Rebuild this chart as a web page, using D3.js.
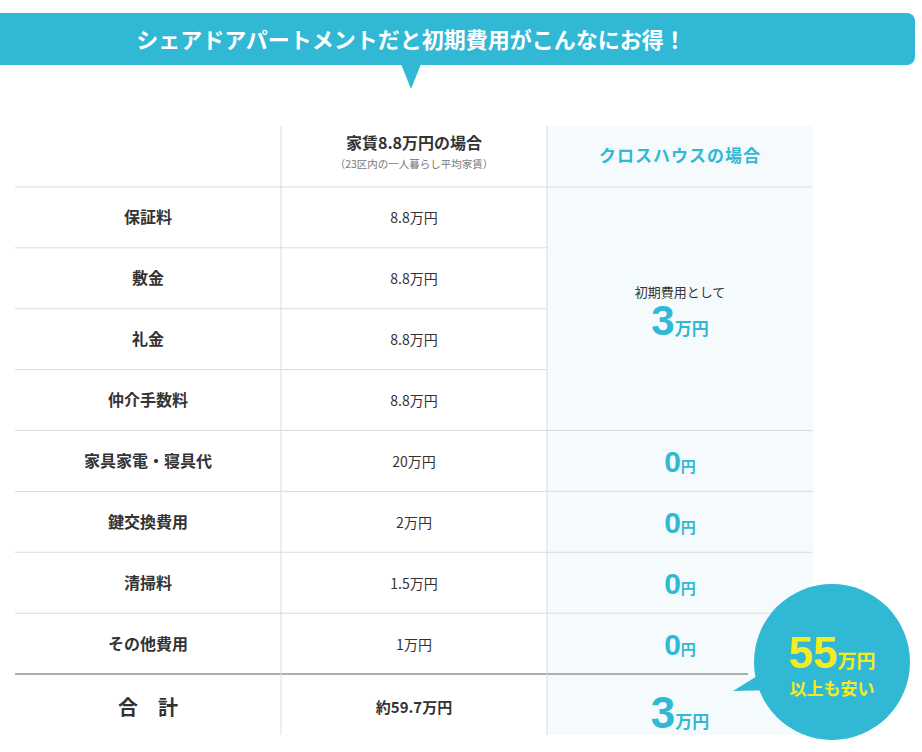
<!DOCTYPE html>
<html><head><meta charset="utf-8">
<script src="https://cdn.jsdelivr.net/npm/d3@7"></script>
<style>body{margin:0;background:#fff}svg{display:block;font-family:"Noto Sans CJK JP","Noto Sans",sans-serif}</style>
</head><body><svg id="c" width="922" height="752"></svg>
<script>
const title = "シェアドアパートメントだと初期費用がこんなにお得！";
const categories = ["保証料","敷金","礼金","仲介手数料","家具家電・寝具代","鍵交換費用","清掃料","その他費用"];
const rentValues = ["8.8万円","8.8万円","8.8万円","8.8万円","20万円","2万円","1.5万円","1万円"];
const crossValues = [null,null,null,null,"0","0","0","0"];
const crossInitial = "3";
const totalLabel = "合　計";
const rentTotal = "約59.7万円";
const crossTotal = "3";
const savings = "55";

const teal="#30b8d5", txt="#333", line="#d9dde0";
const svg=d3.select("#c");
const rowKeys=["head",...categories,"total"];
const y=d3.scaleBand().domain(rowKeys).range([126,735]).paddingInner(0);
// custom: header 59 px, rows 60
const x=d3.scaleBand().domain(["cat","rent","cross"]).range([15,813]);
const rowY=k=>y(k), rh=y.bandwidth();

// banner
svg.append("rect").attr("x",-10).attr("y",13).attr("width",925).attr("height",52).attr("rx",8).attr("fill",teal);
svg.append("path").attr("d","M401,64 L421,64 L411,89 Z").attr("fill",teal);
svg.append("text").attr("x",411).attr("y",48).attr("text-anchor","middle").attr("fill","#fff")
 .attr("font-size",22).attr("font-weight",700).text(title);

// cross column bg
svg.append("rect").attr("x",x("cross")).attr("y",126).attr("width",x.bandwidth()).attr("height",609).attr("fill","#f5fbfd");

// horizontal lines
rowKeys.slice(1).forEach((k,i)=>{
  const yy=rowY(k);
  if(k==="total"){
    svg.append("line").attr("x1",15).attr("x2",748).attr("y1",yy).attr("y2",yy).attr("stroke","#a9b0b4").attr("stroke-width",2);
  } else {
    const x2 = (i>=1&&i<=3)? x("cross"):813;
    svg.append("line").attr("x1",15).attr("x2",x2).attr("y1",yy).attr("y2",yy).attr("stroke",line);
  }
});
// vertical lines
["rent","cross"].forEach(c=>svg.append("line").attr("x1",x(c)).attr("x2",x(c)).attr("y1",126).attr("y2",735).attr("stroke",line));

const cx=c=>x(c)+x.bandwidth()/2;
// header
svg.append("text").attr("x",cx("rent")).attr("y",149).attr("text-anchor","middle").attr("fill",txt).attr("font-size",16).attr("font-weight",700).text("家賃8.8万円の場合");
svg.append("text").attr("x",cx("rent")).attr("y",168).attr("text-anchor","middle").attr("fill","#777").attr("font-size",10.5).text("（23区内の一人暮らし平均家賃）");
svg.append("text").attr("x",cx("cross")).attr("y",162).attr("text-anchor","middle").attr("fill",teal).attr("font-size",17).attr("font-weight",700).attr("letter-spacing",1).text("クロスハウスの場合");

categories.forEach((c,i)=>{
  const m=rowY(c)+rh/2;
  svg.append("text").attr("x",cx("cat")).attr("y",m+6).attr("text-anchor","middle").attr("fill",txt).attr("font-size",16).attr("font-weight",700).text(c);
  svg.append("text").attr("x",cx("rent")).attr("y",m+6).attr("text-anchor","middle").attr("fill",txt).attr("font-size",14).text(rentValues[i]);
  if(crossValues[i]!==null){
    const t=svg.append("text").attr("x",cx("cross")).attr("y",m+11).attr("text-anchor","middle").attr("fill",teal).attr("font-weight",700);
    t.append("tspan").attr("font-size",30).attr("font-family","Liberation Sans,Arial").text(crossValues[i]);
    t.append("tspan").attr("font-size",15).text("円");
  }
});
// merged initial cell
const mTop=rowY(categories[0]), mBot=rowY(categories[3])+rh, mm=(mTop+mBot)/2;
svg.append("text").attr("x",cx("cross")).attr("y",mm-12).attr("text-anchor","middle").attr("fill",txt).attr("font-size",13).text("初期費用として");
let t=svg.append("text").attr("x",cx("cross")).attr("y",mm+26).attr("text-anchor","middle").attr("fill",teal).attr("font-weight",700);
t.append("tspan").attr("font-size",42).attr("font-family","Liberation Sans,Arial").text(crossInitial);
t.append("tspan").attr("font-size",17).text("万円");

// total row
const tm=rowY("total")+rh/2+3;
svg.append("text").attr("x",cx("cat")).attr("y",tm+7).attr("text-anchor","middle").attr("fill",txt).attr("font-size",20).attr("font-weight",700).text(totalLabel);
svg.append("text").attr("x",cx("rent")).attr("y",tm+5).attr("text-anchor","middle").attr("fill",txt).attr("font-size",15).attr("font-weight",700).text(rentTotal);
t=svg.append("text").attr("x",cx("cross")).attr("y",tm+20).attr("text-anchor","middle").attr("fill",teal).attr("font-weight",700);
t.append("tspan").attr("font-size",44).attr("font-family","Liberation Sans,Arial").text(crossTotal);
t.append("tspan").attr("font-size",17).text("万円");

// bubble
svg.append("path").attr("d","M733,691 L770,668 L782,690 Z").attr("fill",teal);
svg.append("circle").attr("cx",832).attr("cy",662).attr("r",78).attr("fill",teal);
t=svg.append("text").attr("x",832).attr("y",668).attr("text-anchor","middle").attr("fill","#f5ec1e").attr("font-weight",700);
t.append("tspan").attr("font-size",44).attr("font-family","Liberation Sans,Arial").text(savings);
t.append("tspan").attr("font-size",19).text("万円");
svg.append("text").attr("x",832).attr("y",695).attr("text-anchor","middle").attr("fill","#f5ec1e").attr("font-size",17).attr("font-weight",700).text("以上も安い");
</script></body></html>
